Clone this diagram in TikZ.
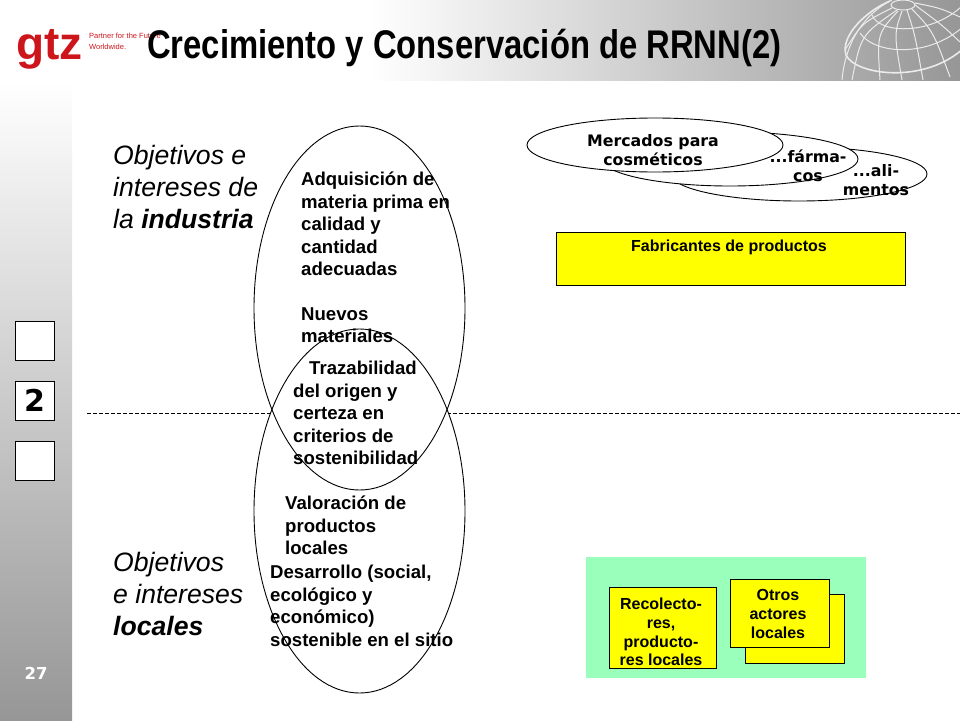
\documentclass[tikz,border=0pt]{standalone}
\usepackage{fontspec}
\setmainfont{Liberation Sans}
\newfontfamily\verdfont{DejaVu Sans}
\newfontfamily\titlefont[FakeStretch=0.82]{Liberation Sans}
\usetikzlibrary{shapes.geometric}
\definecolor{gtzred}{RGB}{204,22,28}
\definecolor{sidegray}{gray}{0.59}
\definecolor{headmid}{gray}{0.82}
\definecolor{sidemid}{gray}{0.86}
\definecolor{paleGreen}{RGB}{153,255,187}
\definecolor{boxYellow}{RGB}{255,255,0}
\tikzset{
  bigoval/.style={draw,ellipse,minimum width=211pt,minimum height=364pt,inner sep=0pt,line width=0.9pt},
  marketoval/.style={draw,ellipse,fill=white,minimum width=256pt,minimum height=54pt,inner sep=0pt,line width=0.9pt},
  yellowbox/.style={draw,fill=boxYellow,inner sep=0pt,line width=0.9pt},
  navbox/.style={draw,fill=white,inner sep=0pt,minimum width=39pt,minimum height=39pt,line width=0.9pt},
  goaltext/.style={anchor=north west,inner sep=0pt,align=left,font=\fontsize{18.6}{22.5}\selectfont\bfseries},
  sidetext/.style={anchor=north west,inner sep=0pt,align=left,font=\fontsize{26.6}{32}\selectfont\itshape},
  boxtext/.style={inner sep=0pt,align=center,font=\fontsize{16}{18.8}\selectfont\bfseries},
  markettext/.style={inner sep=0pt,align=center,font=\verdfont\fontsize{15.8}{18.5}\selectfont\bfseries},
  globeline/.style={white!92!black,line width=1pt}
}
\begin{document}
\begin{tikzpicture}[x=1pt,y=-1pt]
\useasboundingbox (0,0) rectangle (960,720);

% Header band and side bar
\shade[left color=white,middle color=headmid,right color=sidegray] (370,0) rectangle (960,80);
\shade[top color=white,middle color=sidemid,bottom color=sidegray] (0,80) rectangle (72,720);

% Globe
\begin{scope}
\clip (838,0) rectangle (960,80);
\draw[globeline] (903,5) ellipse (12 and 5);
\draw[globeline] (842,80) .. controls (845,45) and (862,15) .. (892,0);
\draw[globeline,line width=1.6pt] (890,1) .. controls (868,10) and (840,35) .. (846,55) .. controls (855,75) and (925,85) .. (965,47);
\draw[globeline] (860,33) .. controls (875,55) and (930,58) .. (965,25);
\draw[globeline] (872,15) .. controls (880,35) and (935,35) .. (965,3);
\foreach \startx/\starty/\bendx/\bendy/\endx/\endy in {
    892/8/862/23/845/50, 897/10/861/35/852/80, 898/11/877/34/880/80, 902/11/894/34/902/80,
    907/10/915/35/923/80, 911/8/933/31/950/77, 915/5/942/25/960/42, 915/3/940/8/960/17}
  \draw[globeline] (\startx,\starty) .. controls (\bendx,\bendy) .. (\endx,\endy);
\end{scope}

% Logo
\node[anchor=base west,inner sep=0pt,text=gtzred,font=\fontsize{46}{46}\selectfont\bfseries] (logo) at (16,59) {gtz};
\node[anchor=base west,inner sep=0pt,text=gtzred,font=\fontsize{7.5}{7.5}\selectfont] (claimA) at (89,38) {Partner for the Future};
\node[anchor=base west,inner sep=0pt,text=gtzred,font=\fontsize{7.5}{7.5}\selectfont] (claimB) at (89,49) {Worldwide.};

% Title
\node[anchor=base west,inner sep=0pt,font=\titlefont\fontsize{40}{40}\selectfont\bfseries] (title) at (147,58) {Crecimiento y Conservación de RRNN(2)};

% Navigation boxes
\node[navbox] (navA) at (34.5,340.5) {};
\node[navbox,font=\verdfont\fontsize{30}{30}\selectfont\bfseries] (navB) at (34.5,400.5) {2};
\node[navbox] (navC) at (34.5,461) {};
\node[text=white,inner sep=0pt,font=\verdfont\fontsize{16.5}{16.5}\selectfont\bfseries] (pageno) at (36,673) {27};

% Divider
\coordinate (divL) at (87,413);
\coordinate (divR) at (960,413);
\draw[line width=0.8pt,dash pattern=on 3.5pt off 2.5pt] (divL) -- (divR);

% Two big ovals
\node[bigoval,fill=white] (lowerOval) at (359.5,511) {};
\node[bigoval] (upperOval) at (359.5,308) {};

% Side labels
\node[sidetext] (sideTop) at (113,145) {Objetivos e\\intereses de\\la {\bfseries industria}};
\node[sidetext] (sideLow) at (113,552) {Objetivos\\e intereses\\{\bfseries locales}};

% Oval texts
\node[goaltext] (acquire) at (301,172) {Adquisición de\\materia prima en\\calidad y\\cantidad\\adecuadas};
\node[goaltext] (newmat) at (301,307) {Nuevos\\materiales};
\node[goaltext] (trace) at (293,361) {\hspace*{16pt}Trazabilidad\\del origen y\\certeza en\\criterios de\\sostenibilidad};
\node[goaltext] (value) at (285,496) {Valoración de\\productos\\locales};
\node[goaltext] (develop) at (270,565) {Desarrollo (social,\\ecológico y\\económico)\\sostenible en el sitio};

% Market ovals
\node[marketoval] (foodOval) at (799,174) {};
\node[marketoval] (pharmaOval) at (730,159) {};
\node[marketoval] (cosmeticOval) at (655,145) {};
\node[markettext] at (653,150) (cosmeticText) {Mercados para\\cosméticos};
\node[markettext] at (808,166) (pharmaText) {...fárma-\\cos};
\node[markettext] at (876,180) (foodText) {...ali-\\mentos};

% Manufacturers
\node[yellowbox,minimum width=349pt,minimum height=53pt] (makers) at (730.5,258.5) {};
\node[boxtext] (makersText) at (729,247) {Fabricantes de productos};

% Local actors
\node[fill=paleGreen,minimum width=280pt,minimum height=121pt,inner sep=0pt] (localArea) at (726,617.5) {};
\node[yellowbox,minimum width=107pt,minimum height=81pt] (collectors) at (662.5,627.5) {};
\node[boxtext] (collectorsText) at (661,632) {Recolecto-\\res,\\producto-\\res locales};
\node[yellowbox,minimum width=99pt,minimum height=69pt] (actorsBack) at (794.5,628.5) {};
\node[yellowbox,minimum width=99pt,minimum height=68pt] (actorsFront) at (779.5,613) {};
\node[boxtext] (actorsText) at (778,614) {Otros\\actores\\locales};
\end{tikzpicture}
\end{document}
